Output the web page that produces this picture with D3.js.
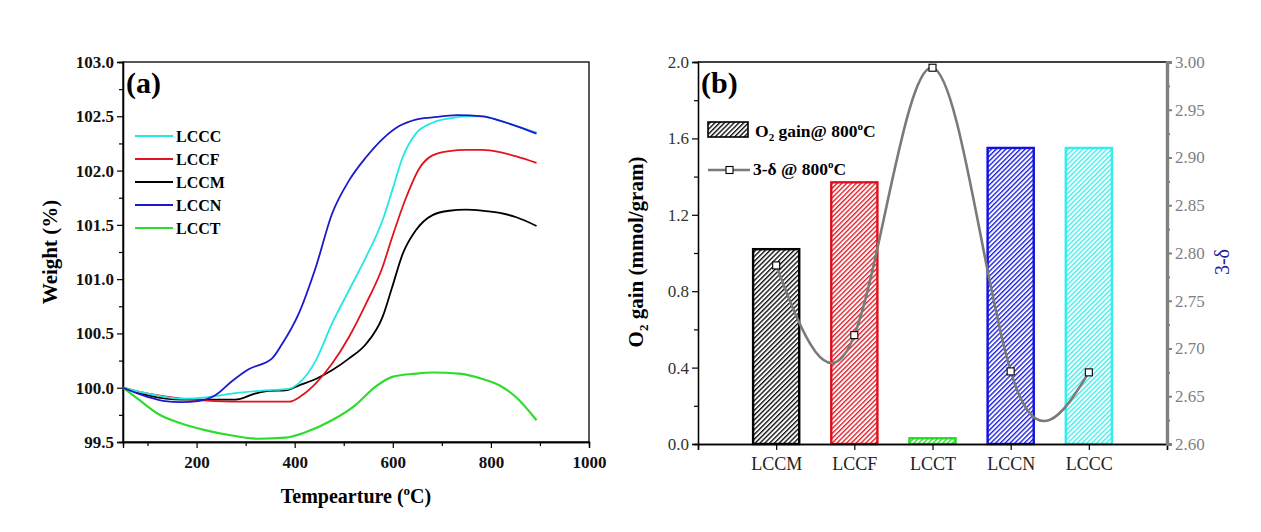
<!DOCTYPE html>
<html><head><meta charset="utf-8">
<script src="https://cdn.jsdelivr.net/npm/d3@7/dist/d3.min.js"></script>
<style>body{margin:0;background:#fff}svg{display:block}text{font-family:"Liberation Serif","Times New Roman",serif}</style>
</head><body>
<svg id="c" width="1261" height="532" font-family="Liberation Serif"></svg>
<script>
// ---------- Panel (a) data: TGA curves ----------
const seriesNames = ["LCCC","LCCF","LCCM","LCCN","LCCT"];
const seriesColors = ["#22e8e4","#e4121c","#000000","#1a1acc","#2edc2e"];
const tempLCCC = [50,101,169,224,272,340,388,408,443,476,511,545,579,599,620,647,681,715,749,783,818,852,893];
const wLCCC    = [100.0,99.945,99.90,99.914,99.945,99.975,99.99,100.04,100.25,100.59,100.90,101.20,101.54,101.82,102.12,102.34,102.44,102.48,102.50,102.50,102.46,102.41,102.35];
const tempLCCF = [50,101,169,238,306,388,415,443,476,511,545,579,599,627,654,681,715,749,783,818,852,893];
const wLCCF    = [100.0,99.945,99.90,99.877,99.871,99.871,99.93,100.04,100.22,100.47,100.77,101.11,101.39,101.75,102.02,102.14,102.18,102.19,102.19,102.17,102.13,102.07];
const tempLCCM = [50,101,169,238,279,319,347,381,408,443,476,511,545,579,599,620,647,681,715,749,783,818,852,893];
const wLCCM    = [100.0,99.93,99.89,99.89,99.89,99.945,99.97,99.975,100.02,100.08,100.16,100.27,100.40,100.65,100.93,101.23,101.45,101.59,101.63,101.64,101.63,101.61,101.57,101.49];
const tempLCCN = [50,101,135,169,203,238,272,306,354,374,408,443,476,511,545,579,613,647,681,732,783,818,852,893];
const wLCCN    = [100.0,99.914,99.877,99.868,99.877,99.93,100.06,100.17,100.27,100.40,100.68,101.11,101.60,101.91,102.12,102.29,102.41,102.47,102.49,102.51,102.50,102.46,102.41,102.34];
const tempLCCT = [50,85,121,169,217,272,326,381,422,476,524,565,599,647,681,735,783,818,852,893];
const wLCCT    = [100.0,99.88,99.76,99.67,99.61,99.56,99.53,99.54,99.59,99.70,99.84,100.01,100.10,100.13,100.14,100.13,100.08,100.02,99.91,99.70];
const xTicksA = [200,400,600,800,1000];
const yTicksA = [99.5,100.0,100.5,101.0,101.5,102.0,102.5,103.0];

// ---------- Panel (b) data ----------
const categories = ["LCCM","LCCF","LCCT","LCCN","LCCC"];
const o2Gain = [1.02,1.37,0.03,1.55,1.55];
const threeMinusDelta = [2.787,2.714,2.994,2.676,2.675];
const barColors = ["#000000","#e0101a","#22dd22","#1010e0","#33eeea"];
const yTicksBLeft = [0.0,0.4,0.8,1.2,1.6,2.0];
const yTicksBRight = [2.60,2.65,2.70,2.75,2.80,2.85,2.90,2.95,3.00];

const svg = d3.select("#c");
const defs = svg.append("defs");

// ================= Panel (a) =================
const A = {l:123, r:589, t:62, b:442};
const xa = d3.scaleLinear().domain([50,1000]).range([A.l,A.r]);
const ya = d3.scaleLinear().domain([99.5,103]).range([A.b,A.t]);
const ga = svg.append("g");

ga.append("rect").attr("x",A.l).attr("y",A.t).attr("width",A.r-A.l).attr("height",A.b-A.t)
  .attr("fill","none").attr("stroke","#000").attr("stroke-width",1.3);

const xAxisA = ga.append("g").attr("transform",`translate(0,${A.b})`)
  .call(d3.axisBottom(xa).tickValues(xTicksA).tickSize(6).tickPadding(8).tickFormat(d3.format("d")));
xAxisA.append("g").call(d3.axisBottom(xa).tickValues(d3.range(100,1000,200)).tickSize(4).tickFormat(""));
const yAxisA = ga.append("g").attr("transform",`translate(${A.l},0)`)
  .call(d3.axisLeft(ya).tickValues(yTicksA).tickSize(6).tickPadding(3).tickFormat(d3.format(".1f")));
yAxisA.append("g").call(d3.axisLeft(ya).tickValues(d3.range(99.75,103,0.5)).tickSize(4).tickFormat(""));
ga.selectAll("g").attr("font-family","Liberation Serif");
ga.selectAll(".domain").attr("stroke","#000").attr("stroke-width",1.3);
ga.selectAll(".tick line").attr("stroke","#000").attr("stroke-width",1.2);
ga.selectAll(".tick text").attr("font-family","Liberation Serif").attr("font-size",17).attr("font-weight","bold").attr("fill","#111");

const seriesData = [[tempLCCC,wLCCC],[tempLCCF,wLCCF],[tempLCCM,wLCCM],[tempLCCN,wLCCN],[tempLCCT,wLCCT]];
const lineA = d3.line().x(d=>xa(d[0])).y(d=>ya(d[1])).curve(d3.curveMonotoneX);
[4,2,1,0,3].forEach(i=>{
  const [t,w] = seriesData[i];
  ga.append("path").datum(t.map((v,j)=>[v,w[j]])).attr("d",lineA)
    .attr("fill","none").attr("stroke",seriesColors[i]).attr("stroke-width",i===4?2.2:1.8);
});

seriesNames.forEach((n,i)=>{
  const y = 136 + i*23;
  ga.append("line").attr("x1",135).attr("x2",173).attr("y1",y).attr("y2",y)
    .attr("stroke",seriesColors[i]).attr("stroke-width",2);
  ga.append("text").attr("x",176).attr("y",y+5.5).attr("font-size",16).attr("font-weight","bold").text(n);
});
ga.append("text").attr("x",126).attr("y",93).attr("font-size",30).attr("font-weight","bold").text("(a)");

const xt = ga.append("text").attr("x",356).attr("y",503).attr("text-anchor","middle").attr("font-size",20).attr("font-weight","bold");
xt.append("tspan").text("Tempearture (");
xt.append("tspan").attr("dy",-8).attr("font-size",13).text("o");
xt.append("tspan").attr("dy",8).text("C)");
ga.append("text").attr("transform","translate(57,252) rotate(-90)").attr("text-anchor","middle")
  .attr("font-size",21).attr("font-weight","bold").text("Weight (%)");

// ================= Panel (b) =================
const B = {l:698, r:1167, t:62, b:444};
const xb = d3.scaleLinear().domain([0,6]).range([B.l,B.r]);
const yb = d3.scaleLinear().domain([0,2]).range([B.b,B.t]);
const yb2 = d3.scaleLinear().domain([2.6,3.0]).range([B.b,B.t]);
const gb = svg.append("g");
const barW = 0.59;

barColors.forEach((c,i)=>{
  const s = 3.4;
  const p = defs.append("pattern").attr("id","h"+i).attr("patternUnits","userSpaceOnUse")
    .attr("width",s).attr("height",s).attr("patternTransform","rotate(45)");
  p.append("rect").attr("width",s).attr("height",s).attr("fill","#fff");
  p.append("line").attr("x1",0.7).attr("y1",0).attr("x2",0.7).attr("y2",s).attr("stroke",c).attr("stroke-width",1.3);
});

categories.forEach((c,i)=>{
  const xc = xb(i+1), w = xb(barW)-xb(0);
  gb.append("rect").attr("x",xc-w/2).attr("y",yb(o2Gain[i])).attr("width",w).attr("height",yb(0)-yb(o2Gain[i]))
    .attr("fill",`url(#h${i})`).attr("stroke",barColors[i]).attr("stroke-width",2.4);
});

gb.append("line").attr("x1",B.l).attr("x2",B.r).attr("y1",B.t).attr("y2",B.t).attr("stroke","#000").attr("stroke-width",1.3);

const xAxisB = gb.append("g").attr("transform",`translate(0,${B.b})`)
  .call(d3.axisBottom(xb).tickValues([1,2,3,4,5]).tickSize(6).tickPadding(7).tickFormat(d=>categories[d-1]));
xAxisB.append("g").call(d3.axisBottom(xb).tickValues([0,6]).tickSize(6).tickFormat(""));
xAxisB.selectAll(".tick text").attr("font-size",18).attr("fill","#222");

const yAxisB = gb.append("g").attr("transform",`translate(${B.l},0)`)
  .call(d3.axisLeft(yb).tickValues(yTicksBLeft).tickSize(6).tickPadding(3).tickFormat(d3.format(".1f")));
yAxisB.append("g").call(d3.axisLeft(yb).tickValues([0.2,0.6,1.0,1.4,1.8]).tickSize(4).tickFormat(""));
yAxisB.selectAll(".tick text").attr("font-size",17).attr("fill","#333");
[xAxisB,yAxisB].forEach(a=>{
  a.attr("font-family","Liberation Serif");
  a.selectAll(".domain").attr("stroke","#000").attr("stroke-width",1.3);
  a.selectAll(".tick line").attr("stroke","#000").attr("stroke-width",1.2);
  a.selectAll(".tick text").attr("font-family","Liberation Serif");
});

const yAxisB2 = gb.append("g").attr("transform",`translate(${B.r},0)`).attr("font-family","Liberation Serif")
  .call(d3.axisRight(yb2).tickValues(yTicksBRight).tickSize(5).tickPadding(3).tickFormat(d3.format(".2f")));
yAxisB2.attr("font-family","Liberation Serif");
yAxisB2.append("g").call(d3.axisRight(yb2).tickValues(d3.range(2.625,3.0,0.05)).tickSize(3).tickFormat(""));
yAxisB2.selectAll(".domain").attr("stroke","#808080").attr("stroke-width",3.2);
yAxisB2.selectAll(".tick line").attr("stroke","#808080").attr("stroke-width",2);
yAxisB2.selectAll(".tick text").attr("font-family","Liberation Serif").attr("font-size",17).attr("fill","#808080");

const lineB = d3.line().x((d,i)=>xb(i+1)).y(d=>yb2(d)).curve(d3.curveNatural);
gb.append("path").datum(threeMinusDelta).attr("d",lineB).attr("fill","none").attr("stroke","#7a7a7a").attr("stroke-width",2.6);
threeMinusDelta.forEach((v,i)=>{
  gb.append("rect").attr("x",xb(i+1)-3.5).attr("y",yb2(v)-3.5).attr("width",7).attr("height",7)
    .attr("fill","#fff").attr("stroke","#000").attr("stroke-width",1.1);
});

gb.append("rect").attr("x",708).attr("y",122).attr("width",40).attr("height",15)
  .attr("fill","url(#h0)").attr("stroke","#000").attr("stroke-width",1.6);
const l1 = gb.append("text").attr("x",755).attr("y",137).attr("font-size",17.5).attr("font-weight","bold");
l1.append("tspan").text("O");
l1.append("tspan").attr("dy",4).attr("font-size",11).text("2");
l1.append("tspan").attr("dy",-4).text(" gain@ 800");
l1.append("tspan").attr("dy",-7).attr("font-size",11).text("o");
l1.append("tspan").attr("dy",7).text("C");
gb.append("line").attr("x1",708).attr("x2",750).attr("y1",170).attr("y2",170).attr("stroke","#7a7a7a").attr("stroke-width",2.6);
gb.append("rect").attr("x",726).attr("y",166.5).attr("width",7).attr("height",7).attr("fill","#fff").attr("stroke","#000").attr("stroke-width",1.1);
const l2 = gb.append("text").attr("x",753).attr("y",175).attr("font-size",17.5).attr("font-weight","bold");
l2.append("tspan").text("3-δ @ 800");
l2.append("tspan").attr("dy",-7).attr("font-size",11).text("o");
l2.append("tspan").attr("dy",7).text("C");

gb.append("text").attr("x",701).attr("y",93).attr("font-size",30).attr("font-weight","bold").text("(b)");

const yl = gb.append("text").attr("transform","translate(643,252) rotate(-90)").attr("text-anchor","middle")
  .attr("font-size",21).attr("font-weight","bold");
yl.append("tspan").text("O");
yl.append("tspan").attr("dy",5).attr("font-size",13).text("2");
yl.append("tspan").attr("dy",-5).text(" gain (mmol/gram)");
gb.append("text").attr("transform","translate(1229,262) rotate(-90)").attr("text-anchor","middle")
  .attr("font-size",20).attr("fill","#20209a").text("3-δ");
</script>
</body></html>
